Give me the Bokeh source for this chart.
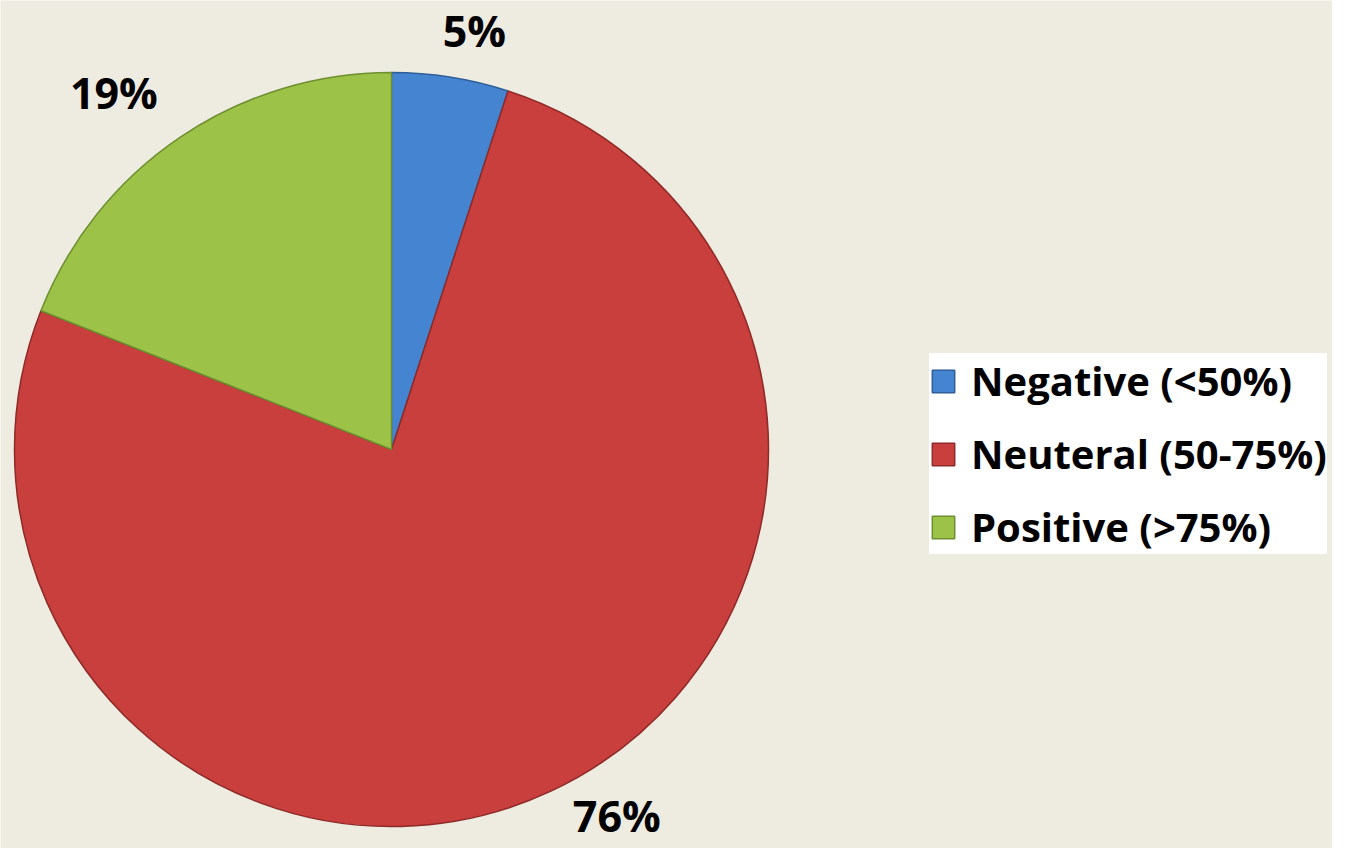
import math
from bokeh.plotting import figure
from bokeh.models import Range1d, Legend, LegendItem, ColumnDataSource
from bokeh.core.properties import value
from bokeh.embed import file_html
from bokeh.resources import INLINE

# ---- data ----
categories = ["Negative (<50%)", "Neuteral (50-75%)", "Positive (>75%)"]
shares = [5, 76, 19]
pct_labels = ["5%", "76%", "19%"]
colors = ["#4584D0", "#C83F3D", "#9CC248"]
edge_colors = ["#2F5F99", "#8E2A28", "#6E8F30"]

# ---- layout (pixel-like data units) ----
W, H = 1332, 848
TOP = 864
cx, cy = 391, TOP - 449
R = 377
label_dist = [427, 430, 452]
label_nudge_deg = [-2.2, 6.4, 3.7]

total = float(sum(shares))
starts, ends, lx, ly = [], [], [], []
cum = 0.0
for i, s in enumerate(shares):
    a0 = 90 - (cum + s) / total * 360
    a1 = 90 - cum / total * 360
    starts.append(math.radians(a0))
    ends.append(math.radians(a1))
    mid = math.radians((a0 + a1) / 2 + label_nudge_deg[i])
    lx.append(cx + label_dist[i] * math.cos(mid))
    ly.append(cy + label_dist[i] * math.sin(mid))
    cum += s

src = ColumnDataSource(dict(cat=categories, start=starts, end=ends,
                            color=colors, edge=edge_colors,
                            lx=lx, ly=ly, lab=pct_labels))

bg = "#EEEBE0"
p = figure(width=W, height=H, x_range=Range1d(0, W), y_range=Range1d(TOP - H, TOP),
           output_backend="svg", toolbar_location=None, min_border=0,
           background_fill_color=bg, border_fill_color=bg, outline_line_color=None)
p.axis.visible = False
p.grid.visible = False

r = p.wedge(x=cx, y=cy, radius=R, start_angle="start", end_angle="end",
            fill_color="color", line_color="edge", line_width=1.5, source=src)

p.text(x="lx", y="ly", text="lab", source=src, text_align="center", text_baseline="middle",
       text_font=value("Open Sans"), text_font_style="bold", text_font_size="43px",
       text_color="black")

items = [LegendItem(label=categories[i], renderers=[r], index=i) for i in range(len(categories))]
legend = Legend(items=items, location=(929, 294), orientation="vertical",
                background_fill_color="white", background_fill_alpha=1.0,
                border_line_color=None, padding=14, margin=0, spacing=18,
                glyph_width=28, glyph_height=28, label_standoff=14, label_height=28,
                label_text_font="Open Sans", label_text_font_style="bold",
                label_text_font_size="40px", label_text_color="black")
p.add_layout(legend, "center")

open("out.html", "w").write(file_html(p, INLINE))
